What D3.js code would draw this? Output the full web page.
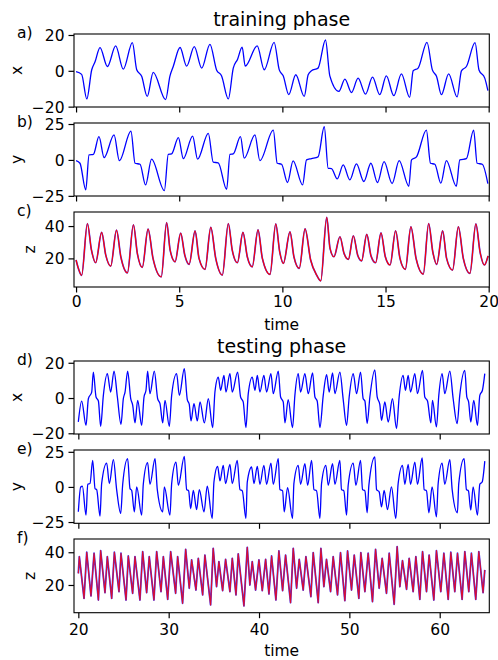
<!DOCTYPE html>
<html><head><meta charset="utf-8">
<script src="https://cdn.jsdelivr.net/npm/d3@7"></script>
<style>body{margin:0;background:#fff} svg{display:block} text{font-family:"DejaVu Sans",sans-serif;fill:#000}</style>
</head><body><svg id="c" width="498" height="660"></svg>
<script>
// ---------- data ----------
const trainTicks = [0, 5, 10, 15, 20];
const testTicks = [20, 30, 40, 50, 60];
const xValTicks = [-20, 0, 20];
const yValTicks = [-25, 0, 25];
const zValTicks = [20, 40];

const trainX = [[0,-0.5],[0.27,-2],[0.52,-15.7],[0.76,0.6],[0.92,5],[1.16,13],[1.52,2.4],[1.92,13.9],[2.29,0.9],[2.73,15.7],[2.94,0.6],[3.18,-3.1],[3.45,-14.3],[3.74,-0.9],[4.34,-16.1],[4.55,-3],[4.71,2.4],[5.04,13],[5.36,2.6],[5.73,13.5],[6.09,1.5],[6.49,14.8],[6.81,0.5],[7.05,-2.8],[7.38,-15.7],[7.62,1.5],[7.83,6.5],[8.05,13.2],[8.2,2.6],[8.78,13.9],[9.12,0.6],[9.6,15.9],[9.85,0.5],[10.04,-2.8],[10.31,-13.3],[10.65,-2.2],[11.06,-14.3],[11.25,-2.2],[11.41,0],[11.73,1.5],[12.09,17.2],[12.3,-2.8],[12.74,-11.5],[13.03,-4.6],[13.35,-12.1],[13.67,-4.1],[14.03,-13],[14.37,-3.5],[14.72,-13.3],[15.04,-2.8],[15.4,-13.9],[15.77,-1.7],[16.17,-14.8],[16.34,0],[16.58,1.5],[17.01,15.9],[17.27,0.5],[17.47,-3],[17.71,-13.3],[18.06,-1.7],[18.47,-14.6],[18.68,0],[18.92,2.4],[19.34,15.7],[19.53,0.5],[19.81,-4.1],[19.96,-11]];

const trainY = [[0,-0.5],[0.19,-2.3],[0.47,-20.8],[0.63,3.5],[0.84,3.9],[1.11,16.2],[1.36,1.6],[1.84,17.4],[2.1,-0.5],[2.66,20.1],[2.86,-2.3],[3.1,-3],[3.37,-17.4],[3.66,0.5],[4.28,-21.3],[4.47,3.9],[4.63,4.2],[4.96,15.5],[5.2,0.9],[5.65,16.6],[5.89,0.5],[6.41,18.5],[6.65,-1.6],[6.89,-2],[7.3,-20.4],[7.46,3.9],[7.62,4.2],[7.97,16.2],[8.15,1.2],[8.67,17.4],[8.91,-0.5],[9.56,20.8],[9.75,-2.3],[9.96,-3],[10.25,-15.7],[10.52,-0.7],[10.98,-17.4],[11.17,0],[11.41,0.9],[11.73,2.1],[12.03,23.1],[12.22,-5.8],[12.38,-6],[12.66,-13.2],[12.95,-3.5],[13.27,-13.9],[13.59,-2.8],[13.95,-15],[14.29,-2.3],[14.61,-15.7],[14.93,-1.2],[15.32,-16.4],[15.66,-0.5],[16.13,-18.3],[16.26,0],[16.5,2.1],[16.98,20.8],[17.18,-2.3],[17.39,-3],[17.68,-16.2],[17.95,-0.5],[18.43,-18.3],[18.6,0],[18.92,0.9],[19.27,20.8],[19.44,-2.3],[19.69,-3],[19.96,-16.5]];

const trainZ = [[0,19],[0.12,13.5],[0.27,9.5],[0.55,41.6],[0.74,25.6],[0.95,17.3],[1.24,36.1],[1.44,22],[1.68,15.2],[1.96,37.5],[2.17,21],[2.49,11.1],[2.78,40.8],[2.97,23.1],[3.21,14.4],[3.49,38.1],[3.73,20],[4.13,8.6],[4.39,42.2],[4.56,25.1],[4.8,17.9],[5.07,35.6],[5.27,22],[5.48,16.3],[5.77,37],[5.96,20],[6.25,13.2],[6.53,39.2],[6.77,20],[7.09,9.7],[7.38,41.6],[7.57,25.1],[7.82,17.3],[8.09,36.1],[8.3,21],[8.54,14.8],[8.82,37.7],[9.03,20],[9.4,10.1],[9.68,41.4],[9.87,24.1],[10.05,16.9],[10.37,36.4],[10.56,21],[10.82,13.8],[11.1,38.3],[11.37,19],[11.66,9.7],[11.86,6.1],[12.15,45.4],[12.31,26.2],[12.5,21],[12.79,33.4],[12.99,23.1],[13.2,19.4],[13.44,34],[13.65,22],[13.84,18.5],[14.09,34.8],[14.3,21.4],[14.52,17.3],[14.78,35.8],[14.99,21],[15.22,15.9],[15.49,37.1],[15.7,20],[15.96,13.2],[16.23,39.5],[16.48,20],[16.83,10.3],[17.09,41.6],[17.29,24.1],[17.48,16.3],[17.77,37.1],[17.96,20],[18.25,12.8],[18.53,39.5],[18.77,20],[19.09,10.7],[19.38,41.3],[19.58,24.1],[19.79,15.9],[19.97,21.5]];

const testX = [[20,-13.5],[20.37,-1.7],[20.85,-15.5],[21.11,-0.4],[21.48,3.4],[21.66,14.7],[21.96,0.6],[22.22,-1.7],[22.47,-16],[22.77,1.5],[23.21,13.8],[23.58,3.4],[23.95,15.3],[24.32,0.6],[24.72,-14.9],[24.98,-0.4],[25.17,3.4],[25.46,15.3],[25.8,-0.4],[26.02,-4.1],[26.27,-14.1],[26.57,-1.3],[27.01,-15.5],[27.27,0.6],[27.49,4.4],[27.67,15.3],[27.93,2.5],[28.41,15.3],[28.78,-0.4],[29.04,-3.2],[29.34,-14.1],[29.59,-1.3],[30.07,-16],[30.33,1.5],[30.88,13.8],[31.18,1.5],[31.73,16.6],[32.06,-0.9],[32.28,-3.6],[32.47,-13],[32.8,-3.2],[33.17,-13],[33.47,-2.2],[33.95,-14.1],[34.39,-0.4],[34.87,-16.8],[35.12,3.4],[35.49,11.9],[35.75,4.4],[36.12,12.8],[36.34,3.4],[36.78,13.8],[37.04,3.4],[37.63,14.7],[37.96,0.6],[38.25,-2.2],[38.55,-16.8],[38.81,2.5],[39.25,11.9],[39.55,4.4],[39.81,12.8],[40.1,3.4],[40.54,12.8],[40.84,3.4],[41.32,13.8],[41.58,2.5],[42.13,15.3],[42.39,0.6],[42.68,-2.2],[42.87,-14.1],[43.23,-0.9],[43.71,-16.8],[43.97,1.5],[44.34,13.8],[44.6,3.4],[45.08,13.8],[45.45,2.5],[45.93,14.2],[46.19,0.6],[46.44,-1.7],[46.74,-16.8],[47.11,1.5],[47.48,13.2],[47.77,3.4],[48.14,14.2],[48.4,2.5],[48.95,14.7],[49.32,-0.9],[49.69,-15.5],[49.98,0.6],[50.43,13.8],[50.8,2.5],[51.24,14.7],[51.53,-0.4],[51.72,-1.7],[51.97,-14.5],[52.27,0.6],[52.82,16],[53.08,0.6],[53.37,-3.6],[53.56,-12.6],[53.93,-2.2],[54.3,-13.6],[54.77,-0.4],[55.22,-17.3],[55.51,0.6],[55.95,12.8],[56.21,4.4],[56.51,12.8],[56.77,3.4],[57.25,13.8],[57.54,2.5],[58.1,15.7],[58.35,0.6],[58.65,-1.7],[59.02,-14.1],[59.2,-1.3],[59.64,-16.4],[59.9,1.5],[60.27,13.8],[60.56,2.5],[61.12,15.3],[61.49,-0.4],[61.93,-14.5],[62.22,1.5],[62.78,15.7],[63.0,0.6],[63.2,-2.2],[63.44,-13.6],[63.77,-1.3],[64.18,-15.5],[64.44,1.5],[64.73,4.4],[64.99,13.8]];

const testY = [[20,-17.7],[20.26,0],[20.45,0.5],[20.85,-20.1],[21.04,1.9],[21.29,2.4],[21.59,18.9],[21.85,-1.2],[22.03,-1.9],[22.4,-20.8],[22.58,2.4],[23.14,17],[23.43,2.4],[23.88,19.4],[24.24,-1.9],[24.69,-18.9],[24.91,1.9],[25.46,20.1],[25.72,-1.2],[25.9,-2.4],[26.2,-17.7],[26.46,0],[27.01,-20.1],[27.19,1.9],[27.67,17.3],[27.93,1.9],[28.49,20.1],[28.74,-1.9],[29.34,-17.7],[29.52,0],[30.14,-20.1],[30.33,2.4],[30.81,17.7],[31.07,1.2],[31.73,21.7],[31.99,-1.9],[32.21,-2.8],[32.43,-15.4],[32.73,-2.4],[33.09,-16.1],[33.39,-1.9],[33.91,-17.7],[34.27,0.5],[34.82,-22.5],[35.01,3.5],[35.42,14.7],[35.68,4.3],[36.04,15.4],[36.3,2.4],[36.78,16.1],[37.04,2.4],[37.59,18.9],[37.89,-1.9],[38.15,-2.8],[38.55,-22.5],[38.7,3.5],[39.18,14.2],[39.44,2.4],[39.81,14.7],[40.1,1.9],[40.54,15.4],[40.84,1.9],[41.32,17],[41.58,1.9],[42.13,20.1],[42.31,-1.9],[42.61,-2.8],[42.79,-17.7],[43.16,-0.5],[43.71,-22.5],[43.86,2.4],[44.34,15.4],[44.6,1.9],[45.08,16.5],[45.38,1.2],[45.82,18.9],[46.08,-1.9],[46.37,-2.8],[46.74,-22.5],[46.92,2.4],[47.4,15.4],[47.66,1.2],[48.14,16.5],[48.4,1.9],[48.95,18.9],[49.13,-1.9],[49.39,-2.8],[49.69,-20.1],[49.87,1.2],[50.43,17],[50.72,1.2],[51.24,18.9],[51.46,-1.9],[51.72,-2.8],[51.97,-18.4],[52.16,1.2],[52.82,21.3],[53.01,-1.9],[53.3,-3.5],[53.56,-14.2],[53.85,-2.4],[54.22,-16.1],[54.66,0],[55.14,-22.5],[55.4,2.4],[55.88,15.4],[56.14,1.9],[56.51,16.1],[56.77,1.9],[57.25,17.7],[57.54,1.9],[58.06,20.6],[58.28,-1.9],[58.54,-2.8],[58.8,-18.4],[59.16,0],[59.64,-21.3],[59.83,2.4],[60.27,17],[60.56,1.9],[61.12,19.4],[61.38,-1.9],[61.96,-18.4],[62.11,2.4],[62.7,20.1],[62.96,-1.9],[63.18,-2.8],[63.44,-16.5],[63.7,0],[64.18,-20.1],[64.44,1.9],[64.7,3.5],[64.99,18.4]];

const testZ = [[20,27.1],[20.11,37.3],[20.63,11.8],[20.93,40],[21.4,13.3],[21.74,39.4],[22.22,10.8],[22.47,41],[22.95,15.3],[23.21,37.3],[23.69,11.8],[23.99,40],[24.5,15.9],[24.72,39.4],[25.28,10.8],[25.53,37.7],[26.01,14.9],[26.27,37.3],[26.82,10.8],[27.12,40.4],[27.56,15.3],[27.85,37.3],[28.37,10.8],[28.67,40.4],[29.15,15.9],[29.41,37.3],[29.89,11.2],[30.22,40.4],[30.77,14.9],[30.99,37.3],[31.54,8.8],[31.88,41.8],[32.28,18],[32.54,35.3],[33.02,16.9],[33.28,36.3],[33.76,13.9],[34.01,38.3],[34.64,7.8],[34.93,42.4],[35.3,19],[35.56,34.3],[35.97,16.5],[36.3,35.7],[36.78,15.9],[37.04,36.3],[37.45,13.9],[37.7,39],[38.33,7.2],[38.7,43],[38.99,20],[39.25,34.3],[39.62,16.9],[39.99,35.3],[40.36,16.5],[40.73,35.7],[41.1,14.5],[41.39,37.7],[41.87,10.8],[42.2,40.8],[42.61,16.5],[42.94,38.3],[43.49,9.2],[43.79,42.4],[44.16,18],[44.45,35.7],[44.89,16.9],[45.19,37.3],[45.74,12.9],[46,39.8],[46.55,9.2],[46.85,42.4],[47.18,19],[47.47,35.7],[47.92,15.9],[48.21,37.3],[48.69,13.9],[49.02,39.8],[49.5,10.4],[49.8,40.8],[50.24,16.9],[50.54,38.3],[51.05,11.8],[51.27,39.8],[51.72,15.9],[52.08,39.4],[52.56,9.8],[52.9,41.8],[53.3,18],[53.63,36.3],[54.11,14.9],[54.41,39.4],[54.96,8.2],[55.29,43.4],[55.59,19],[55.88,34.9],[56.33,17.3],[56.62,36.3],[57.06,15.9],[57.36,37.3],[57.8,11.2],[58.1,40.4],[58.54,15.9],[58.83,38.3],[59.35,10.8],[59.64,41],[60.12,15.9],[60.46,39.4],[60.94,11.2],[61.23,40],[61.67,15.9],[61.97,39.4],[62.48,11.2],[62.78,40.4],[63.22,15.9],[63.51,39.4],[63.99,11.2],[64.33,40.4],[64.8,15.3],[64.99,29.2]];

// ---------- layout ----------
const L = 74, R = 489.3;
const mono = d3.curveMonotoneX, lin = d3.curveLinear;
const panels = [
  {lab:"a)", name:"x", top:34,  bot:107,   xd:[-0.1,20.03], yd:[-20.2,20.55], yt:xValTicks, xt:trainTicks, cv:mono, lines:[[trainX,"#0000ff",1,1.3]], nx:22},
  {lab:"b)", name:"y", top:123, bot:196,   xd:[-0.1,20.03], yd:[-25.1,25.7],  yt:yValTicks, xt:trainTicks, cv:mono, lines:[[trainY,"#0000ff",1,1.3]], nx:22},
  {lab:"c)", name:"z", top:212, bot:287,   xd:[-0.1,20.03], yd:[2.3,48.7],    yt:zValTicks, xt:trainTicks, cv:mono, lines:[[trainZ,"#3c3cff",1,1.7],[trainZ,"#ff0000",1,1.2]], nx:35, xlab:true, tlBase:307, timeBase:330},
  {lab:"d)", name:"x", top:361, bot:434,   xd:[19.52,65.49], yd:[-20.4,21],   yt:xValTicks, xt:testTicks, cv:mono, lines:[[testX,"#0000ff",1,1.3]], nx:22},
  {lab:"e)", name:"y", top:450, bot:523.3, xd:[19.52,65.49], yd:[-25.9,26.3], yt:yValTicks, xt:testTicks, cv:mono, lines:[[testY,"#0000ff",1,1.3]], nx:22},
  {lab:"f)", name:"z", top:539, bot:612.7, xd:[19.52,65.49], yd:[3.06,48.1],  yt:zValTicks, xt:testTicks, cv:lin, lines:[[testZ,"#3c3cff",1,1.8],[testZ,"#ff0000",0.82,1.15]], nx:35, xlab:true, tlBase:635, timeBase:656}
];

const svg = d3.select("#c");
const FS = 15.5;

panels.forEach((p, i) => {
  const x = d3.scaleLinear().domain(p.xd).range([L, R]);
  const y = d3.scaleLinear().domain(p.yd).range([p.bot, p.top]);
  const g = svg.append("g");
  const cid = "clip" + i;
  svg.append("clipPath").attr("id", cid).append("rect")
    .attr("x", L).attr("y", p.top).attr("width", R - L).attr("height", p.bot - p.top);

  const line = d3.line().x(d => x(d[0])).y(d => y(d[1])).curve(p.cv);
  p.lines.forEach(([data, col, op, w]) => {
    g.append("path").attr("d", line(data)).attr("fill", "none")
      .attr("stroke", col).attr("stroke-width", w).attr("stroke-opacity", op)
      .attr("stroke-linejoin", "round").attr("clip-path", `url(#${cid})`);
  });

  const ax = g.append("g").attr("transform", `translate(0,${p.bot})`)
    .call(d3.axisBottom(x).tickValues(p.xt).tickSize(5.5).tickSizeOuter(0).tickPadding(4)
      .tickFormat(p.xlab ? d3.format("d") : ""));
  const ay = g.append("g").attr("transform", `translate(${L},0)`)
    .call(d3.axisLeft(y).tickValues(p.yt).tickSize(5.5).tickSizeOuter(0).tickPadding(4).tickFormat(d3.format("d")));
  [ax, ay].forEach(a => {
    a.select(".domain").remove();
    a.selectAll(".tick line").attr("stroke", "#000").attr("stroke-width", 1.2);
    a.selectAll(".tick text").attr("font-size", FS).attr("font-family", "DejaVu Sans").attr("fill", "#000");
  });
  ay.selectAll(".tick text").attr("dy", "0.36em");
  if (p.xlab) {
    ax.selectAll(".tick text").attr("dy", null).attr("y", p.tlBase - p.bot);
    svg.append("text").attr("x", (L + R) / 2).attr("y", p.timeBase).attr("text-anchor", "middle")
      .attr("font-size", FS).text("time");
  }

  g.append("rect").attr("x", L).attr("y", p.top).attr("width", R - L).attr("height", p.bot - p.top)
    .attr("fill", "none").attr("stroke", "#000").attr("stroke-width", 1.1);

  svg.append("text").attr("x", 17).attr("y", p.top + 3.5).attr("font-size", FS).text(p.lab);
  svg.append("text").attr("transform", `translate(${p.nx},${(p.top + p.bot) / 2}) rotate(-90)`)
    .attr("text-anchor", "middle").attr("font-size", FS).text(p.name);
});

svg.append("text").attr("x", (L + R) / 2).attr("y", 26).attr("text-anchor", "middle").attr("font-size", 19).text("training phase");
svg.append("text").attr("x", (L + R) / 2).attr("y", 353).attr("text-anchor", "middle").attr("font-size", 19).text("testing phase");
</script></body></html>
